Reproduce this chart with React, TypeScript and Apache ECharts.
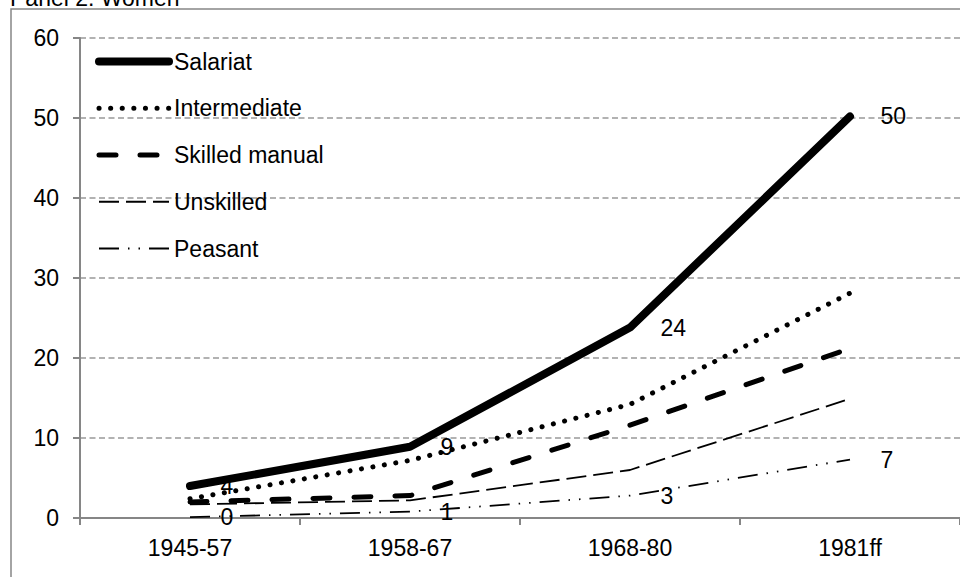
import React, { useEffect, useRef } from "react";
import * as echarts from "echarts";

const categories = ["1945-57", "1958-67", "1968-80", "1981ff"];
const salariat = [4.0, 8.9, 23.8, 50.2];
const intermediate = [2.4, 7.2, 14.2, 28.1];
const skilledManual = [2.0, 2.8, 11.6, 21.2];
const unskilled = [1.7, 2.2, 6.0, 14.9];
const peasant = [0.1, 0.8, 2.8, 7.3];
const title = "Panel 2: Women";

const FONT = "Liberation Sans, Arial, sans-serif";
const FS = 23;

export default function App() {
  const ref = useRef<HTMLDivElement>(null);
  useEffect(() => {
    if (!ref.current) return;
    const chart = echarts.init(ref.current, undefined, { renderer: "svg" });
    const labelOn = {
      show: true,
      position: "right",
      distance: 30,
      color: "#000",
      fontSize: FS,
      fontFamily: FONT,
      formatter: (p: any) => String(Math.round(p.value)),
    };
    const base = {
      type: "line",
      symbol: "circle",
      symbolSize: 1,
      showSymbol: true,
      itemStyle: { color: "rgba(0,0,0,0)" },
      silent: true,
    };
    chart.setOption({
      animation: false,
      backgroundColor: "#fff",
      textStyle: { fontFamily: FONT },
      graphic: [
        {
          type: "rect",
          shape: { x: 11, y: 9, width: 1100, height: 700 },
          style: { fill: "none", stroke: "#868686", lineWidth: 1.5 },
          z: -1,
        },
        {
          type: "text",
          x: 10,
          y: 9,
          style: {
            text: title,
            font: `${FS}px ${FONT}`,
            fill: "#000",
            textVerticalAlign: "bottom",
          },
        },
      ],
      grid: { left: 80, top: 38, bottom: 59, right: -12 },
      legend: {
        orient: "vertical",
        left: 95,
        top: 50,
        padding: 0,
        itemWidth: 70,
        itemHeight: 24,
        itemGap: 23.75,
        lineStyle: { width: "inherit", type: "inherit", cap: "inherit" },
        textStyle: { fontSize: FS, fontFamily: FONT, color: "#000" },
        data: ["Salariat", "Intermediate", "Skilled manual", "Unskilled", "Peasant"],
      },
      xAxis: {
        type: "category",
        data: categories,
        boundaryGap: true,
        axisLine: { lineStyle: { color: "#868686", width: 2 } },
        axisTick: { show: true, length: 7, lineStyle: { color: "#868686", width: 2 } },
        axisLabel: { color: "#000", fontSize: FS, fontFamily: FONT, margin: 18 },
        splitLine: { show: false },
      },
      yAxis: {
        type: "value",
        min: 0,
        max: 60,
        interval: 10,
        axisLine: { show: true, lineStyle: { color: "#868686", width: 2 } },
        axisTick: { show: true, length: 7, lineStyle: { color: "#868686", width: 2 } },
        axisLabel: { color: "#000", fontSize: FS, fontFamily: FONT, margin: 21 },
        splitLine: {
          show: true,
          lineStyle: { color: "#999", width: 1.6, type: [6, 3.5] },
        },
      },
      series: [
        {
          ...base,
          name: "Salariat",
          data: salariat,
          z: 6,
          lineStyle: { color: "#000", width: 8, cap: "round", join: "round" },
          label: labelOn,
        },
        {
          ...base,
          name: "Intermediate",
          data: intermediate,
          z: 5,
          lineStyle: { color: "#000", width: 5, type: [0.1, 11.5], cap: "round" },
        },
        {
          ...base,
          name: "Skilled manual",
          data: skilledManual,
          z: 4,
          lineStyle: { color: "#000", width: 5, type: [17, 24], cap: "round" },
        },
        {
          ...base,
          name: "Unskilled",
          data: unskilled,
          z: 3,
          lineStyle: { color: "#000", width: 1.8, type: [20, 7] },
        },
        {
          ...base,
          name: "Peasant",
          data: peasant,
          z: 2,
          lineStyle: { color: "#000", width: 1.8, type: [20, 9, 1.5, 9, 1.5, 9] },
          label: labelOn,
        },
      ],
    });
    return () => chart.dispose();
  }, []);
  return (
    <div
      ref={ref}
      style={{ position: "fixed", left: 0, top: 0, width: 960, height: 577, background: "#fff" }}
    />
  );
}
